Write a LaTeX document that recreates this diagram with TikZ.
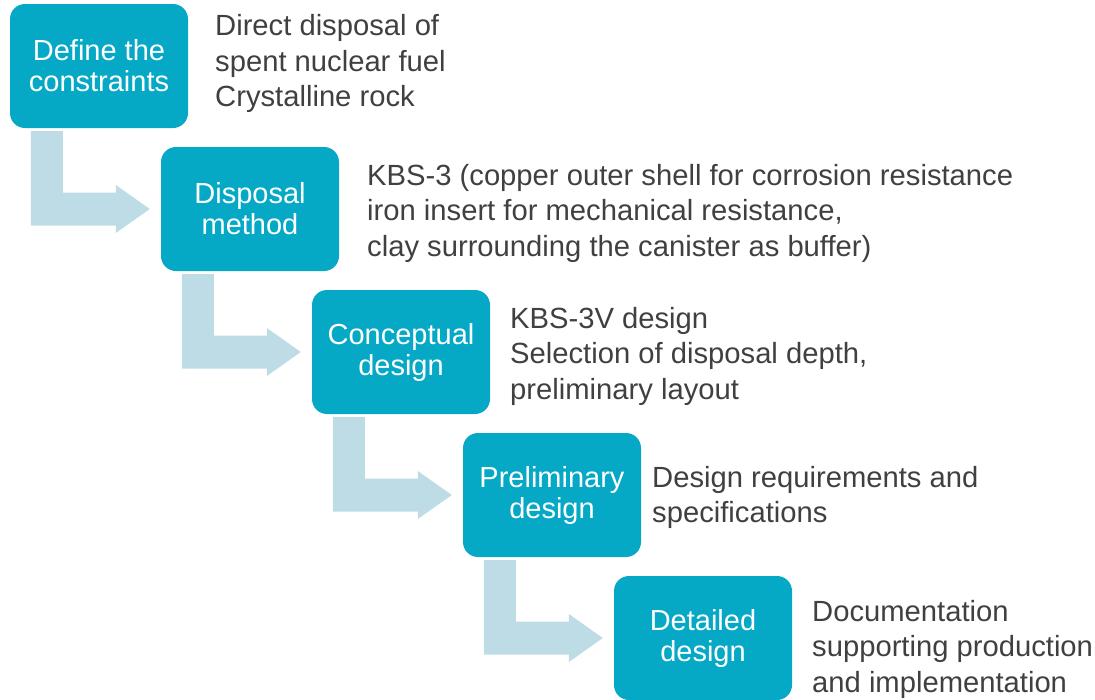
\documentclass[tikz,border=0pt]{standalone}
\usepackage{fontspec}
\setmainfont{Liberation Sans}
\usetikzlibrary{calc}
\definecolor{boxcol}{HTML}{05A9C6}
\definecolor{arrcol}{HTML}{BDDCE6}
\definecolor{txtcol}{HTML}{404040}
\tikzset{
  stepbox/.style={fill=boxcol, rounded corners=15pt, minimum width=178pt, minimum height=124pt,
    inner sep=0pt, text=white, align=center, font=\fontsize{29}{31}\selectfont},
  sidetext/.style={anchor=base west, inner sep=0pt, text=txtcol, align=left,
    font=\fontsize{29.2}{35.5}\selectfont},
}
\begin{document}
\begin{tikzpicture}[x=1pt,y=1pt]
\useasboundingbox (0,0) rectangle (1095,-699);
\node[stepbox] (b1) at (99,-66) {Define the\\constraints};
\node[stepbox] (b2) at (250,-209) {Disposal\\method};
\node[stepbox] (b3) at (401,-352) {Conceptual\\design};
\node[stepbox] (b4) at (552,-495) {Preliminary\\design};
\node[stepbox] (b5) at (703,-638) {Detailed\\design};
\foreach \a/\b in {b1/b2,b2/b3,b3/b4,b4/b5}{
  \path ([xshift=21pt,yshift=-3pt]\a.south west) coordinate (p1)
        ([xshift=53pt,yshift=-3pt]\a.south west) coordinate (p2);
  \fill[arrcol] (p1) -- (p2) -- ($(p2|-\b.west)+(0,16.5pt)$)
    -- ($(\b.west)+(-45pt,16.5pt)$) -- ($(\b.west)+(-45pt,24pt)$)
    -- ($(\b.west)+(-11pt,0)$) -- ($(\b.west)+(-45pt,-24pt)$)
    -- ($(\b.west)+(-45pt,-16.5pt)$) -- ($(p1|-\b.west)+(0,-16.5pt)$) -- cycle;
}
\node[sidetext] (t1) at (215,-106.5) {Direct disposal of\\spent nuclear fuel\\Crystalline rock};
\node[sidetext] (t2) at (367,-256) {KBS-3 (copper outer shell for corrosion resistance\\iron insert for mechanical resistance,\\clay surrounding the canister as buffer)};
\node[sidetext] (t3) at (510,-399) {KBS-3V design\\Selection of disposal depth,\\preliminary layout};
\node[sidetext] (t4) at (652,-522.5) {Design requirements and\\specifications};
\node[sidetext] (t5) at (812,-692) {Documentation\\supporting production\\and implementation};
\end{tikzpicture}
\end{document}
